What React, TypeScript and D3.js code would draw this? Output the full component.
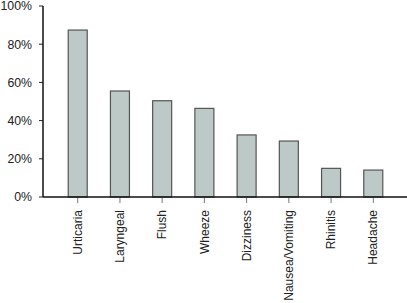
import React from "react";
import * as d3 from "d3";

const categories = ["Urticaria", "Laryngeal", "Flush", "Wheeze", "Dizziness", "Nausea/Vomiting", "Rhinitis", "Headache"];
const values = [87.4, 55.5, 50.4, 46.4, 32.5, 29.3, 15.0, 14.1];
const yTicks = [0, 20, 40, 60, 80, 100];

export default function App() {
  const W = 407, H = 303;
  const axisX = 43, axisY = 197;
  const x = d3.scaleBand<string>().domain(categories).range([56.6, 394.4]).paddingInner(0.55).paddingOuter(0.275);
  const y = d3.scaleLinear().domain([0, 100]).range([axisY, 6]);
  const font = "Liberation Sans, Arial, sans-serif";
  return (
    <svg width={W} height={H} style={{ position: "absolute", left: 0, top: 0, background: "#fff" }}>
      {categories.map((c, i) => (
        <rect key={c} x={x(c)!} y={y(values[i])} width={x.bandwidth()} height={axisY - y(values[i])}
          fill="#bdc9c7" stroke="#555" strokeWidth={1.2} />
      ))}
      {yTicks.map(t => (
        <g key={t}>
          <line x1={axisX - 4} x2={axisX} y1={y(t)} y2={y(t)} stroke="#222" strokeWidth={1} />
          <text x={axisX - 11} y={y(t)} dy="0.35em" textAnchor="end" fontFamily={font} fontSize={12.3} fill="#222">{t}%</text>
        </g>
      ))}
      {categories.map(c => {
        const cx = x(c)! + x.bandwidth() / 2;
        return (
          <g key={c}>
            <line x1={cx} x2={cx} y1={axisY} y2={axisY + 6} stroke="#777" strokeWidth={1} />
            <text transform={`translate(${cx},${axisY + 13}) rotate(-90)`} dy="0.35em" textAnchor="end"
              fontFamily={font} fontSize={12} fill="#222">{c}</text>
          </g>
        );
      })}
      <line x1={axisX} x2={axisX} y1={6} y2={axisY} stroke="#111" strokeWidth={1.5} />
      <line x1={axisX} x2={W} y1={axisY} y2={axisY} stroke="#111" strokeWidth={1.5} />
    </svg>
  );
}
